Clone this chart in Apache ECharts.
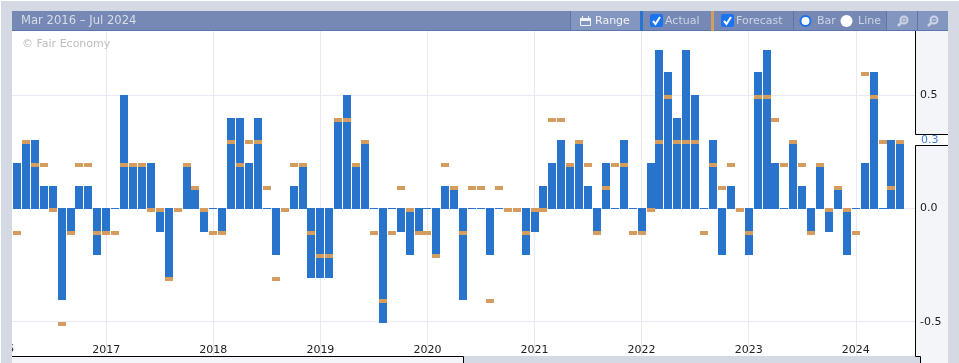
<!DOCTYPE html>
<html>
<head>
<meta charset="utf-8">
<title>Mar 2016 – Jul 2024</title>
<style>
html, body { margin: 0; padding: 0; background: #fff; }
#chart { width: 959px; height: 363px; }
</style>
<script src="https://cdn.jsdelivr.net/npm/echarts@6/dist/echarts.min.js"></script>
</head>
<body>
<div id="chart"></div>
<script>
// monthly values, first one is Mar 2016
var actual = [
  0.2, 0.3, 0.3, 0.1, 0.1, -0.4, -0.1, 0.1, 0.1, -0.2,
  -0.1, 0, 0.5, 0.2, 0.2, 0.2, -0.1, -0.3, 0, 0.2,
  0.1, -0.1, 0, -0.1, 0.4, 0.4, 0.2, 0.4, 0, -0.2,
  0, 0.1, 0.2, -0.3, -0.3, -0.3, 0.4, 0.5, 0.2, 0.3,
  0, -0.5, 0, -0.1, -0.2, -0.1, 0, -0.2, 0.1, 0.1,
  -0.4, 0, 0, -0.2, 0, 0, 0, -0.2, -0.1, 0.1,
  0.2, 0.3, 0.2, 0.3, 0.1, -0.1, 0.2, 0, 0.3, 0,
  -0.1, 0.2, 0.7, 0.6, 0.4, 0.7, 0.5, 0, 0.3, -0.2,
  0.1, 0, -0.2, 0.6, 0.7, 0.2, 0, 0.3, 0.1, -0.1,
  0.2, -0.1, 0.1, -0.2, 0, 0.2, 0.6, 0, 0.3, 0.3
];
var forecast = [
  -0.1, 0.3, 0.2, 0.2, 0, -0.5, -0.1, 0.2, 0.2, -0.1,
  -0.1, -0.1, 0.2, 0.2, 0.2, 0, 0, -0.3, 0, 0.2,
  0.1, 0, -0.1, -0.1, 0.3, 0.2, 0.3, 0.3, 0.1, -0.3,
  0, 0.2, 0.2, -0.1, -0.2, -0.2, 0.4, 0.4, 0.2, 0.3,
  -0.1, -0.4, -0.1, 0.1, 0, -0.1, -0.1, -0.2, 0.2, 0.1,
  -0.1, 0.1, 0.1, -0.4, 0.1, 0, 0, -0.1, 0, 0,
  0.4, 0.4, 0.2, 0.3, 0.2, -0.1, 0.1, 0.2, 0.2, -0.1,
  -0.1, 0, 0.3, 0.5, 0.3, 0.3, 0.3, -0.1, 0.2, 0.1,
  0.2, 0, -0.1, 0.5, 0.5, 0.4, 0.2, 0.3, 0.2, -0.1,
  0.2, 0, 0.1, 0, -0.1, 0.6, 0.5, 0.3, 0.1, 0.3
];
var yearTicks = [10, 22, 34, 46, 58, 70, 82, 94];
var yearLabels = ['2017', '2018', '2019', '2020', '2021', '2022', '2023', '2024'];
var yTicks = [-0.5, 0, 0.5];
var lastValue = '0.3';

var GRAY = '#d5d9e3', HEAD = '#7689b5', HEAD_LIGHT = '#8396bf', LINE = '#5a76ad';
var BLUE = '#2874cc', ORANGE = '#d49c5f', PANEL = '#f4f5f9';
var FONT = '"DejaVu Sans", sans-serif';

function box(x, y, w, h, fill, z) {
  return { type: 'rect', silent: true, z: z, shape: { x: x, y: y, width: w, height: h }, style: { fill: fill } };
}
function label(x, y, txt, color, size) {
  return { type: 'text', silent: true, z: 70, x: x, y: y,
    style: { text: txt, fill: color, font: (size || 11) + 'px ' + FONT, verticalAlign: 'middle' } };
}
function checkbox(x, y) {
  return [
    { type: 'rect', silent: true, z: 70, shape: { x: x, y: y, width: 13, height: 13, r: 2 }, style: { fill: '#1a73f0' } },
    { type: 'polyline', silent: true, z: 71, shape: { points: [[x + 3, y + 7], [x + 5.5, y + 10], [x + 10, y + 3]] },
      style: { stroke: '#fff', lineWidth: 2, fill: null } }
  ];
}
function magnifier(cx, cy, plus) {
  var c = '#ccd4e6';
  return [
    { type: 'circle', silent: true, z: 70, shape: { cx: cx + 1, cy: cy - 1, r: 3.5 }, style: { stroke: c, lineWidth: 2, fill: null } },
    { type: 'line', silent: true, z: 70, shape: { x1: cx - 2, y1: cy + 2, x2: cx - 5, y2: cy + 5 }, style: { stroke: c, lineWidth: 2.5 } },
    { type: 'line', silent: true, z: 71, shape: { x1: cx - 1, y1: cy - 1, x2: cx + 3, y2: cy - 1 }, style: { stroke: c, lineWidth: 1 } }
  ].concat(plus ? [
    { type: 'line', silent: true, z: 71, shape: { x1: cx + 1, y1: cy - 3, x2: cx + 1, y2: cy + 1 }, style: { stroke: c, lineWidth: 1 } }
  ] : []);
}
function blackLine(x1, y1, x2, y2) {
  return { type: 'line', silent: true, z: 65, shape: { x1: x1, y1: y1, x2: x2, y2: y2 }, style: { stroke: '#000', lineWidth: 1 } };
}

var chrome = [
  // behind the plot
  box(1, 1, 958, 362, GRAY, -10),
  box(12, 31, 903, 325, '#fff', -9),
  box(915, 31, 33, 325, PANEL, -9),
  box(920, 356, 28, 7, PANEL, -9),
  box(12, 356, 451, 7, PANEL, -9),
  // clipped label of the year before the range
  { type: 'text', silent: true, z: 50, x: 0, y: 349,
    style: { text: '2016', fill: '#222', font: '11px ' + FONT, align: 'center', verticalAlign: 'middle' } },
  box(1, 1, 11, 362, GRAY, 60),
  // header
  box(12, 11, 936, 19, HEAD, 60),
  box(12, 30, 936, 1, LINE, 60),
  box(571, 11, 69, 19, HEAD_LIGHT, 61),
  box(887, 11, 30, 19, HEAD_LIGHT, 61),
  box(918, 11, 30, 19, HEAD_LIGHT, 61),
  box(570, 11, 1, 20, LINE, 62),
  box(793, 11, 1, 20, LINE, 62),
  box(886, 11, 1, 20, LINE, 62),
  box(917, 11, 1, 20, LINE, 62),
  box(640, 11, 3, 20, BLUE, 62),
  box(711, 11, 3, 20, ORANGE, 62),
  label(21, 21, 'Mar 2016 – Jul 2024', '#d8dde9', 11.6),
  label(595, 21.5, 'Range', '#f0f3f8'),
  label(665, 21.5, 'Actual', '#ccd4e6'),
  label(736, 21.5, 'Forecast', '#ccd4e6'),
  label(817, 21.5, 'Bar', '#ccd4e6'),
  label(858, 21.5, 'Line', '#ccd4e6'),
  { type: 'text', silent: true, z: 5, x: 22, y: 44,
    style: { text: '© Fair Economy', fill: '#bdbdbd', font: '11px ' + FONT, verticalAlign: 'middle' } },
  // calendar icon
  { type: 'rect', silent: true, z: 70, shape: { x: 580.5, y: 18.5, width: 10, height: 7 }, style: { stroke: '#f0f3f8', fill: null, lineWidth: 1 } },
  box(580, 18, 11, 3, '#f0f3f8', 70),
  box(582, 16, 1, 2, '#f0f3f8', 70),
  box(588, 16, 1, 2, '#f0f3f8', 70),
  // radios
  { type: 'circle', silent: true, z: 70, shape: { cx: 805.5, cy: 21, r: 5 }, style: { fill: '#fff', stroke: '#1a73f0', lineWidth: 2 } },
  { type: 'circle', silent: true, z: 70, shape: { cx: 846.5, cy: 21, r: 6 }, style: { fill: '#fff' } },
  // right axis frame with the last value tag
  box(915, 134, 33, 11, '#fff', 64),
  blackLine(915.5, 31, 915.5, 134.5),
  blackLine(915.5, 134.5, 948, 134.5),
  blackLine(915.5, 145.5, 948, 145.5),
  blackLine(915.5, 145.5, 915.5, 356.5),
  blackLine(915.5, 356.5, 920.5, 356.5),
  blackLine(920.5, 356.5, 920.5, 363),
  blackLine(12, 356.5, 463.5, 356.5),
  blackLine(463.5, 356.5, 463.5, 363),
  { type: 'text', silent: true, z: 70, x: 921, y: 140,
    style: { text: lastValue, fill: '#3b7fd8', font: '11px ' + FONT, verticalAlign: 'middle' } }
].concat(checkbox(650, 14), checkbox(721, 14), magnifier(903, 21, true), magnifier(933, 21, false));

// whole pixels for the marks, the reference has no soft edges
function snapY(y, v) {
  return v < 0 ? Math.ceil(y) : Math.round(y);
}
function renderActual(params, api) {
  var v = api.value(1);
  var p = api.coord([api.value(0), v]);
  var base = Math.round(api.coord([0, 0])[1]);
  var left = Math.round(p[0] - 4);
  var top = v > 0 ? snapY(p[1], v) : base;
  var bottom = v > 0 ? base + 1 : (v < 0 ? snapY(p[1], v) + 1 : base + 1);
  return { type: 'rect', shape: { x: left, y: top, width: 8, height: bottom - top }, style: { fill: BLUE } };
}
function renderForecast(params, api) {
  var v = api.value(1);
  var p = api.coord([api.value(0), v]);
  return { type: 'rect', shape: { x: Math.round(p[0] - 4), y: snapY(p[1], v), width: 8, height: 4 }, style: { fill: ORANGE } };
}

var chart = echarts.init(document.getElementById('chart'));
chart.setOption({
  animation: false,
  textStyle: { fontFamily: FONT },
  grid: { left: 12, top: 31, width: 903, height: 325 },
  xAxis: {
    type: 'value',
    min: -0.56,
    max: 100.64,
    axisLine: { show: false },
    axisTick: { show: false, customValues: yearTicks },
    axisLabel: {
      customValues: yearTicks,
      inside: true,
      margin: 0,
      hideOverlap: false,
      fontSize: 11,
      color: '#222',
      formatter: function (v) { return yearLabels[yearTicks.indexOf(v)]; }
    },
    splitLine: { show: true, lineStyle: { color: '#e8e9f2', width: 1 } }
  },
  yAxis: {
    type: 'value',
    position: 'right',
    min: -0.6515,
    max: 0.7821,
    axisLine: { show: false },
    axisTick: { show: false, customValues: yTicks },
    axisLabel: {
      customValues: yTicks,
      margin: 5,
      padding: [2, 0, 0, 0],
      fontSize: 11,
      color: '#222',
      formatter: function (v) { return v.toFixed(1); }
    },
    splitLine: { show: true, lineStyle: { color: '#e8e9f2', width: 1 } }
  },
  series: [
    {
      name: 'Actual',
      type: 'custom',
      renderItem: renderActual,
      encode: { x: 0, y: 1 },
      z: 2,
      data: actual.map(function (v, i) { return [i, v]; })
    },
    {
      name: 'Forecast',
      type: 'custom',
      renderItem: renderForecast,
      encode: { x: 0, y: 1 },
      z: 3,
      data: forecast.map(function (v, i) { return [i, v]; })
    }
  ],
  graphic: { elements: chrome }
});
</script>
</body>
</html>
